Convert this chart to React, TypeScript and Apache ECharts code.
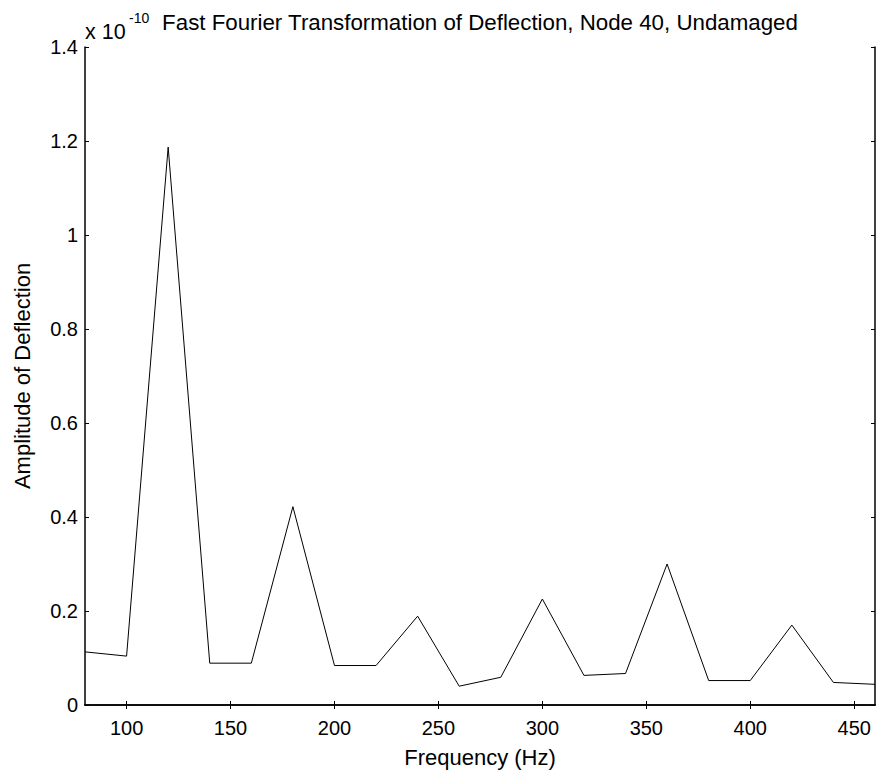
import React, { useEffect, useRef } from "react";
import * as echarts from "echarts";

const frequencies = [80, 100, 120, 140, 160, 180, 200, 220, 240, 260, 280, 300, 320, 340, 360, 380, 400, 420, 440, 460];
const amplitudes = [0.113, 0.104, 1.187, 0.089, 0.089, 0.422, 0.084, 0.084, 0.189, 0.04, 0.059, 0.2255, 0.063, 0.067, 0.30, 0.052, 0.052, 0.17, 0.048, 0.044];
const xTicks = [100, 150, 200, 250, 300, 350, 400, 450];

const FONT = "Liberation Sans, Arial, sans-serif";

export default function App() {
  const ref = useRef<HTMLDivElement>(null);
  useEffect(() => {
    if (!ref.current) return;
    const chart = echarts.init(ref.current, null, { renderer: "svg" });
    const axisLine = { show: true, lineStyle: { color: "#000", width: 1.5 } };
    const tick = { show: true, inside: true, length: 4, lineStyle: { color: "#000", width: 1 } };
    chart.setOption({
      animation: false,
      backgroundColor: "#fff",
      textStyle: { fontFamily: FONT },
      title: {
        text: "Fast Fourier Transformation of Deflection, Node 40, Undamaged",
        left: 475,
        textAlign: "center",
        top: 6,
        textStyle: { fontFamily: FONT, fontSize: 22.3, fontWeight: "normal", color: "#000" },
      },
      graphic: [
        {
          type: "text",
          left: 85,
          top: 21,
          style: { text: "x 10", fontFamily: FONT, fontSize: 21.5, fill: "#000" },
        },
        {
          type: "text",
          left: 129,
          top: 11,
          style: { text: "-10", fontFamily: FONT, fontSize: 14, fill: "#000" },
        },
      ],
      grid: { left: 85, right: 5, top: 47, bottom: 69, containLabel: false },
      xAxis: [
        {
          type: "value",
          position: "bottom",
          min: 80,
          max: 460,
          name: "Frequency (Hz)",
          nameLocation: "middle",
          nameGap: 41,
          nameTextStyle: { fontFamily: FONT, fontSize: 22, color: "#000" },
          axisLine,
          axisTick: { ...tick, customValues: xTicks },
          axisLabel: { customValues: xTicks, fontFamily: FONT, fontSize: 20, color: "#000", margin: 13 },
          splitLine: { show: false },
        },
        {
          type: "value",
          position: "top",
          min: 80,
          max: 460,
          axisLine,
          axisTick: { ...tick, customValues: xTicks },
          axisLabel: { show: false, customValues: xTicks },
          splitLine: { show: false },
        },
      ],
      yAxis: [
        {
          type: "value",
          position: "left",
          min: 0,
          max: 1.4,
          interval: 0.2,
          name: "Amplitude of Deflection",
          nameLocation: "middle",
          nameGap: 52,
          nameTextStyle: { fontFamily: FONT, fontSize: 22, color: "#000" },
          axisLine,
          axisTick: tick,
          axisLabel: {
            fontFamily: FONT,
            fontSize: 20,
            color: "#000",
            margin: 7,
            formatter: (v: number) => String(Math.round(v * 10) / 10),
          },
          splitLine: { show: false },
        },
        {
          type: "value",
          position: "right",
          min: 0,
          max: 1.4,
          interval: 0.2,
          axisLine,
          axisTick: tick,
          axisLabel: { show: false },
          splitLine: { show: false },
        },
      ],
      series: [
        {
          type: "line",
          xAxisIndex: 0,
          yAxisIndex: 0,
          data: frequencies.map((f, i) => [f, amplitudes[i]]),
          showSymbol: false,
          symbol: "none",
          lineStyle: { color: "#000", width: 1 },
        },
      ],
    });
    return () => chart.dispose();
  }, []);
  return <div ref={ref} style={{ width: 880, height: 774, position: "absolute", left: 0, top: 0 }} />;
}
